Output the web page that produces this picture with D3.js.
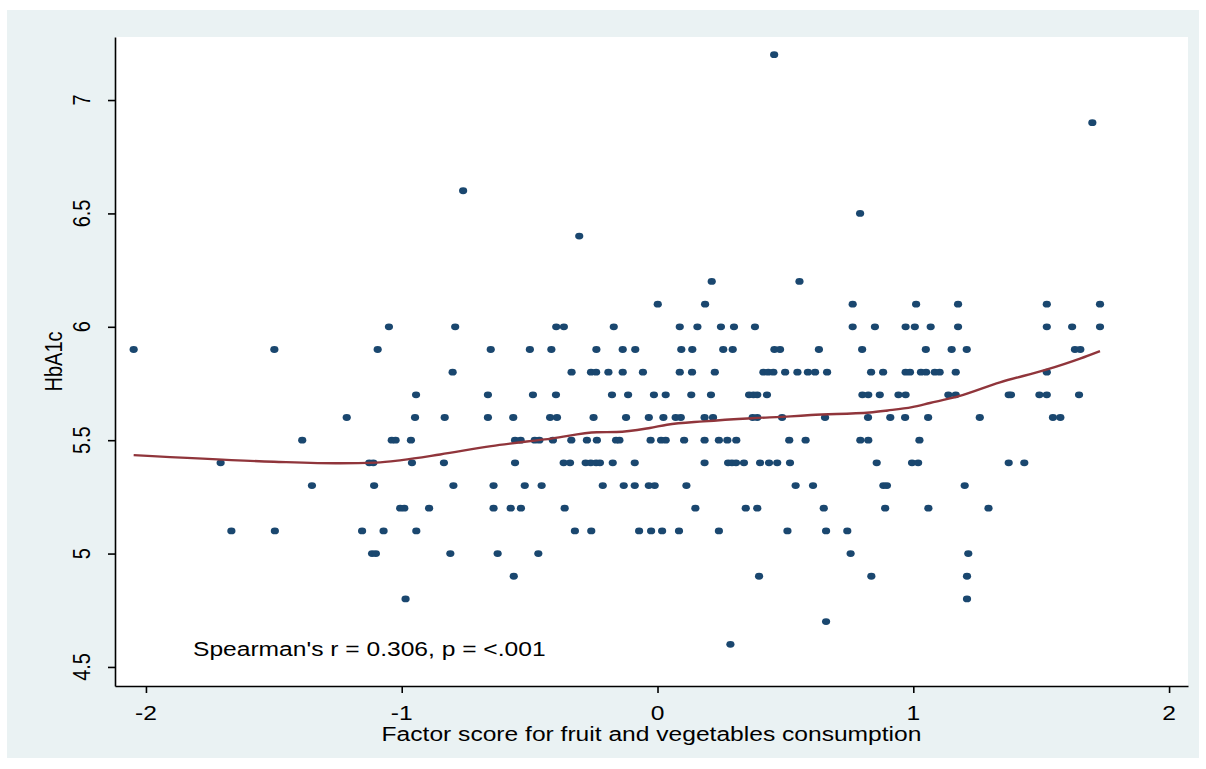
<!DOCTYPE html>
<html>
<head>
<meta charset="utf-8">
<script src="https://cdn.jsdelivr.net/npm/d3@7"></script>
<style>
  html, body { margin: 0; padding: 0; background: #ffffff; }
  svg { display: block; }
  text { font-family: "Liberation Sans", Arial, Helvetica, sans-serif; fill: #000; }
</style>
</head>
<body>
<svg id="chart" width="1206" height="769"></svg>
<script>
// ---------------- DATA ----------------
// HbA1c levels (rows of points) and the factor scores observed at each level
const hba1cLevels = [7.2, 6.9, 6.6, 6.5, 6.4, 6.2, 6.1, 6.0, 5.9, 5.8, 5.7, 5.6, 5.5, 5.4, 5.3, 5.2, 5.1, 5.0, 4.9, 4.8, 4.7, 4.6];
const factorScoresByLevel = [
  [0.456],
  [1.700],
  [-0.760],
  [0.792],
  [-0.306],
  [0.212, 0.555],
  [0.001, 0.186, 0.763, 1.011, 1.175, 1.522, 1.730],
  [-1.050, -0.791, -0.396, -0.366, -0.171, 0.087, 0.156, 0.248, 0.299, 0.381, 0.763, 0.850, 0.970, 1.006, 1.068, 1.175, 1.522, 1.621, 1.730],
  [-2.048, -1.498, -1.094, -0.652, -0.499, -0.415, -0.239, -0.136, -0.087, 0.093, 0.136, 0.257, 0.294, 0.457, 0.479, 0.631, 0.800, 1.049, 1.150, 1.209, 1.632, 1.653],
  [-0.801, -0.336, -0.260, -0.240, -0.192, -0.136, -0.057, 0.087, 0.135, 0.224, 0.414, 0.433, 0.453, 0.499, 0.547, 0.588, 0.616, 0.663, 0.835, 0.882, 0.970, 0.987, 1.030, 1.050, 1.084, 1.103, 1.166, 1.522],
  [-0.944, -0.663, -0.487, -0.397, -0.178, -0.115, -0.014, 0.032, 0.132, 0.209, 0.358, 0.375, 0.390, 0.428, 0.801, 0.824, 0.869, 0.942, 0.970, 1.137, 1.166, 1.373, 1.382, 1.493, 1.522, 1.648],
  [-1.215, -0.948, -0.832, -0.663, -0.564, -0.420, -0.393, -0.250, -0.123, -0.034, 0.023, 0.071, 0.091, 0.184, 0.217, 0.372, 0.390, 0.487, 0.655, 0.823, 0.910, 0.968, 1.058, 1.260, 1.546, 1.575],
  [-1.389, -1.039, -1.024, -0.964, -0.557, -0.535, -0.480, -0.462, -0.409, -0.337, -0.276, -0.237, -0.162, -0.149, -0.027, 0.014, 0.032, 0.104, 0.184, 0.240, 0.273, 0.308, 0.515, 0.579, 0.793, 0.824, 1.024],
  [-1.708, -1.127, -1.111, -0.960, -0.835, -0.557, -0.367, -0.342, -0.281, -0.261, -0.240, -0.225, -0.175, -0.089, 0.184, 0.276, 0.291, 0.307, 0.338, 0.401, 0.436, 0.468, 0.518, 0.857, 0.995, 1.019, 1.373, 1.434],
  [-1.351, -1.108, -0.798, -0.641, -0.519, -0.453, -0.214, -0.132, -0.089, -0.034, -0.011, 0.113, 0.540, 0.608, 0.883, 0.897, 1.201],
  [-1.006, -0.990, -0.893, -0.641, -0.574, -0.534, -0.363, 0.148, 0.345, 0.390, 0.650, 0.890, 1.059, 1.294],
  [-1.666, -1.496, -1.155, -1.071, -0.943, -0.323, -0.259, -0.072, -0.025, 0.018, 0.084, 0.240, 0.508, 0.659, 0.742],
  [-1.116, -1.101, -0.810, -0.625, -0.466, 0.755, 1.215],
  [-0.562, 0.397, 0.836, 1.210],
  [-0.985, 1.210],
  [0.659],
  [0.285]
];

// Lowess smoother
const trendX = [-2.048, -1.5, -1.24, -1.1, -1.0, -0.85, -0.65, -0.41, -0.237, -0.16, -0.03, 0.037, 0.18, 0.37, 0.52, 0.6, 0.83, 0.9, 0.995, 1.065, 1.175, 1.339, 1.52, 1.652, 1.730];
const trendY = [5.434, 5.405, 5.398, 5.401, 5.412, 5.437, 5.474, 5.508, 5.535, 5.536, 5.554, 5.568, 5.583, 5.597, 5.605, 5.611, 5.622, 5.631, 5.646, 5.664, 5.693, 5.755, 5.811, 5.860, 5.893];

const xTicks = [-2, -1, 0, 1, 2];
const xTickLabels = ["-2", "-1", "0", "1", "2"];
const yTicks = [4.5, 5, 5.5, 6, 6.5, 7];
const yTickLabels = ["4.5", "5", "5.5", "6", "6.5", "7"];

const xTitle = "Factor score for fruit and vegetables consumption";
const yTitle = "HbA1c";
const note = "Spearman's r = 0.306, p = <.001";

// ---------------- LAYOUT ----------------
const W = 1206, H = 769;
const plot = { left: 115, right: 1188, top: 37, bottom: 686 };
const SX = 1.23; // horizontal stretch of the original picture
const FS = 20;

const x = d3.scaleLinear().domain([-2.121, 2.074]).range([plot.left, plot.right]);
const y = d3.scaleLinear().domain([4.416, 7.278]).range([plot.bottom, plot.top]);

const svg = d3.select("#chart");

// graph region
svg.append("rect").attr("x", 7).attr("y", 10).attr("width", 1192).attr("height", 748)
  .attr("fill", "#eaf2f3");
// plot region
svg.append("rect").attr("x", plot.left).attr("y", plot.top)
  .attr("width", plot.right - plot.left).attr("height", plot.bottom - plot.top)
  .attr("fill", "#ffffff");

// axes
const xAxis = d3.axisBottom(x).tickValues(xTicks).tickSize(7).tickSizeOuter(0).tickFormat("");
const yAxis = d3.axisLeft(y).tickValues(yTicks).tickSize(7).tickSizeOuter(0).tickFormat("");
const gx = svg.append("g").attr("transform", `translate(0,${plot.bottom})`).call(xAxis);
const gy = svg.append("g").attr("transform", `translate(${plot.left},0)`).call(yAxis);
[gx, gy].forEach(g => {
  g.selectAll("path.domain").attr("stroke", "#000").attr("stroke-width", 1.6);
  g.selectAll(".tick line").attr("stroke", "#000").attr("stroke-width", 1.6);
});

// tick labels (stretched like the source)
svg.append("g").selectAll("text").data(xTicks).join("text")
  .attr("transform", d => `translate(${x(d)},720) scale(${SX},1)`)
  .attr("text-anchor", "middle").attr("font-size", FS)
  .text((d, i) => xTickLabels[i]);

svg.append("g").selectAll("text").data(yTicks).join("text")
  .attr("transform", d => `translate(90,${y(d)}) scale(${SX},1) rotate(-90)`)
  .attr("text-anchor", "middle").attr("font-size", FS)
  .text((d, i) => yTickLabels[i]);

// axis titles
svg.append("text")
  .attr("transform", `translate(${(plot.left + plot.right) / 2},741) scale(${SX},1)`)
  .attr("text-anchor", "middle").attr("font-size", FS).text(xTitle);
svg.append("text")
  .attr("transform", `translate(62,${(plot.top + plot.bottom) / 2}) scale(${SX},1) rotate(-90)`)
  .attr("text-anchor", "middle").attr("font-size", FS).text(yTitle);

// points
const points = [];
hba1cLevels.forEach((lv, i) => factorScoresByLevel[i].forEach(fs => points.push({ fs, hb: lv })));
svg.append("g").selectAll("ellipse").data(points).join("ellipse")
  .attr("cx", d => x(d.fs)).attr("cy", d => y(d.hb))
  .attr("rx", 4.1).attr("ry", 3.4)
  .attr("fill", "#1a476f");

// lowess line
const trend = trendX.map((v, i) => [v, trendY[i]]);
svg.append("path").datum(trend)
  .attr("fill", "none").attr("stroke", "#90353b").attr("stroke-width", 2.4)
  .attr("d", d3.line().x(d => x(d[0])).y(d => y(d[1])).curve(d3.curveMonotoneX));

// annotation
svg.append("text")
  .attr("transform", `translate(${x(-1.816)},${y(4.55)}) scale(${SX},1)`)
  .attr("font-size", FS).text(note);
</script>
</body>
</html>
